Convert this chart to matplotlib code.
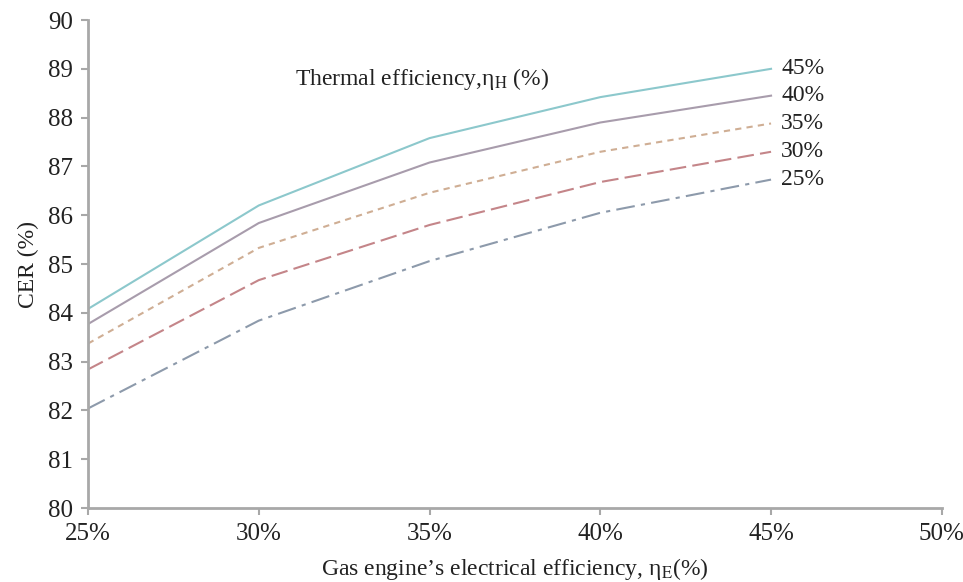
import matplotlib
matplotlib.use("Agg")
import matplotlib.pyplot as plt

plt.rcParams['font.family'] = ['Liberation Serif', 'DejaVu Serif']
plt.rcParams['mathtext.fontset'] = 'stix'

# electrical efficiency (%) on x axis
elec_eff = [25, 30, 35, 40, 45]
x_ticks = [25, 30, 35, 40, 45, 50]

# CER (%) for each thermal efficiency
thermal_labels = ['45%', '40%', '35%', '30%', '25%']
cer_45 = [84.08, 86.20, 87.58, 88.42, 89.00]
cer_40 = [83.77, 85.84, 87.08, 87.90, 88.45]
cer_35 = [83.37, 85.33, 86.46, 87.30, 87.88]
cer_30 = [82.84, 84.67, 85.80, 86.68, 87.30]
cer_25 = [82.04, 83.84, 85.06, 86.05, 86.73]

series = [cer_45, cer_40, cer_35, cer_30, cer_25]
colors = ['#8cc8cc', '#a89cac', '#cfae94', '#c48589', '#8d9aab']
styles = ['-', '-', (0, (3, 2.5)), (0, (8, 3)), (0, (9, 3, 2, 3))]

fig = plt.figure(figsize=(9.63, 5.82), dpi=100)
ax = fig.add_axes([0.0914, 0.1271, 0.8866, 0.8385])

for vals, c, ls, lab in zip(series, colors, styles, thermal_labels):
    ax.plot(elec_eff, vals, color=c, linestyle=ls, linewidth=1.5)
    ax.text(elec_eff[-1] + 0.3, vals[-1], lab, fontsize=17,
            va='center', ha='left', color='#222222')

ax.text(31.05, 88.8, r'Thermal efficiency,η$_\mathrm{H}$ (%)',
        fontsize=17, va='center', ha='left', color='#222222')

ax.set_xlim(25, 50)
ax.set_ylim(80, 90)
ax.set_xticks(x_ticks)
ax.set_xticklabels([f'{v}%' for v in x_ticks])
ax.set_yticks(range(80, 91))

for s in ['top', 'right']:
    ax.spines[s].set_visible(False)
for s in ['left', 'bottom']:
    ax.spines[s].set_color('#a8a8a8')
    ax.spines[s].set_linewidth(2)
ax.tick_params(axis='both', colors='#a8a8a8', length=5, width=1.5,
               labelsize=18, labelcolor='#222222')
ax.tick_params(axis='x', pad=6)
ax.tick_params(axis='y', pad=6)

ax.set_xlabel("Gas engine’s electrical efficiency, η$_\\mathrm{E}$(%)",
              fontsize=17, color='#222222', labelpad=8)
ax.set_ylabel('CER (%)', fontsize=17, color='#222222', labelpad=6)

fig.savefig('out.png', dpi=100)
